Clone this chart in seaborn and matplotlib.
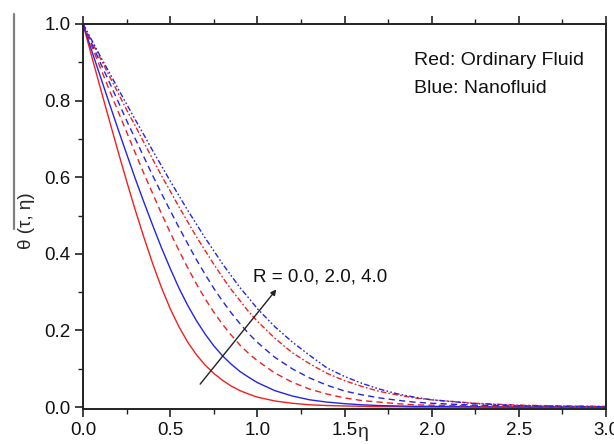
import matplotlib
matplotlib.use("Agg")
import matplotlib.pyplot as plt
import seaborn as sns
import pandas as pd
from matplotlib.lines import Line2D
from matplotlib.ticker import MultipleLocator, FormatStrFormatter

# ---- data ----
eta = [0.00, 0.05, 0.10, 0.15, 0.20, 0.25, 0.30, 0.35, 0.40, 0.45, 0.50,
       0.55, 0.60, 0.65, 0.70, 0.75, 0.80, 0.85, 0.90, 0.95, 1.00,
       1.10, 1.20, 1.30, 1.40, 1.50, 1.60, 1.70, 1.80, 1.90, 2.00,
       2.25, 2.50, 2.75, 3.00]

red_R0 = [1.000, 0.915, 0.832, 0.750, 0.669, 0.590, 0.514, 0.442, 0.374, 0.312, 0.257,
          0.210, 0.170, 0.137, 0.110, 0.088, 0.070, 0.055, 0.043, 0.034, 0.026,
          0.016, 0.010, 0.006, 0.004, 0.003, 0.002, 0.001, 0.001, 0.000, 0.000,
          0.000, 0.000, 0.000, 0.000]
blue_R0 = [1.000, 0.930, 0.862, 0.794, 0.727, 0.661, 0.596, 0.534, 0.474, 0.416, 0.362,
           0.311, 0.266, 0.226, 0.191, 0.160, 0.134, 0.112, 0.093, 0.078, 0.064,
           0.043, 0.029, 0.019, 0.013, 0.009, 0.006, 0.004, 0.003, 0.002, 0.002,
           0.001, 0.000, 0.000, 0.000]
red_R2 = [1.000, 0.942, 0.885, 0.829, 0.773, 0.718, 0.663, 0.609, 0.557, 0.505, 0.456,
          0.409, 0.364, 0.322, 0.283, 0.248, 0.216, 0.188, 0.162, 0.140, 0.121,
          0.089, 0.065, 0.047, 0.034, 0.024, 0.017, 0.013, 0.009, 0.006, 0.005,
          0.003, 0.001, 0.000, 0.000]
blue_R2 = [1.000, 0.949, 0.898, 0.849, 0.799, 0.748, 0.700, 0.652, 0.604, 0.558, 0.513,
           0.469, 0.427, 0.385, 0.347, 0.310, 0.277, 0.246, 0.218, 0.192, 0.169,
           0.130, 0.100, 0.076, 0.057, 0.042, 0.032, 0.024, 0.018, 0.013, 0.010,
           0.005, 0.003, 0.002, 0.001]
red_R4 = [1.000, 0.954, 0.910, 0.865, 0.821, 0.776, 0.734, 0.690, 0.647, 0.604, 0.564,
          0.523, 0.484, 0.445, 0.409, 0.373, 0.339, 0.307, 0.278, 0.249, 0.224,
          0.180, 0.142, 0.113, 0.088, 0.069, 0.054, 0.041, 0.032, 0.024, 0.019,
          0.010, 0.005, 0.003, 0.002]
blue_R4 = [1.000, 0.958, 0.915, 0.874, 0.832, 0.791, 0.750, 0.710, 0.669, 0.630, 0.590,
           0.552, 0.514, 0.478, 0.442, 0.408, 0.374, 0.343, 0.312, 0.285, 0.257,
           0.210, 0.170, 0.135, 0.102, 0.080, 0.062, 0.047, 0.035, 0.026, 0.019,
           0.009, 0.004, 0.002, 0.001]

series = [
    ("red_R0", red_R0, "#f02020", None),
    ("blue_R0", blue_R0, "#2424e8", None),
    ("red_R2", red_R2, "#f02020", (4.5, 3.0)),
    ("blue_R2", blue_R2, "#2424e8", (4.5, 3.0)),
    ("red_R4", red_R4, "#f02020", (4.0, 1.6, 1.2, 1.6)),
    ("blue_R4", blue_R4, "#2424e8", (4.0, 1.6, 1.2, 1.6, 1.2, 1.6)),
]

sns.set_theme(style="white")
plt.rcParams["font.family"] = ["Liberation Sans", "DejaVu Sans"]

fig = plt.figure(figsize=(6.14, 4.44), dpi=100)
ax = fig.add_axes([0.1352, 0.0788, 0.8518, 0.8672])

for name, vals, col, dash in series:
    df = pd.DataFrame({"eta": eta, "theta": vals})
    sns.lineplot(data=df, x="eta", y="theta", color=col, linewidth=1.0, ax=ax,
                 estimator=None, sort=False)
    if dash is not None:
        ax.lines[-1].set_dashes(dash)

ax.set_xlim(0, 3.0)
ax.set_ylim(-0.005, 1.0)

ax.xaxis.set_major_locator(MultipleLocator(0.5))
ax.xaxis.set_minor_locator(MultipleLocator(0.25))
ax.yaxis.set_major_locator(MultipleLocator(0.2))
ax.yaxis.set_minor_locator(MultipleLocator(0.1))
ax.xaxis.set_major_formatter(FormatStrFormatter("%.1f"))
ax.yaxis.set_major_formatter(FormatStrFormatter("%.1f"))

for sp in ax.spines.values():
    sp.set_visible(True)
    sp.set_color("#222222")
    sp.set_linewidth(1.4)

ax.tick_params(axis="both", which="both", direction="out", color="#222222",
               labelsize=13.5, labelcolor="#111111")
ax.tick_params(axis="x", which="both", top=True, bottom=True, labeltop=False)
ax.tick_params(axis="y", which="both", left=True, right=False)
ax.tick_params(which="major", length=6, width=1.2, pad=3)
ax.tick_params(which="minor", length=3.5, width=1.0)

ax.set_xlabel("η", fontsize=14, va="center", ha="center")
ax.xaxis.set_label_coords(0.536, -0.062)
ax.set_ylabel("θ (τ, η)", fontsize=13.5, va="center", ha="center")
ax.yaxis.set_label_coords(-0.108, 0.49)

ax.text(1.897, 0.904, "Red: Ordinary Fluid", fontsize=14, ha="left", va="center", color="#111111")
ax.text(1.897, 0.831, "Blue: Nanofluid", fontsize=14, ha="left", va="center", color="#111111")
ax.text(0.977, 0.34, "R = 0.0, 2.0, 4.0", fontsize=13.5, ha="left", va="center", color="#111111")
ax.annotate("", xy=(1.109, 0.307), xytext=(0.672, 0.06),
            arrowprops=dict(arrowstyle="-|>", color="#222222", lw=1.0,
                            mutation_scale=8, shrinkA=0, shrinkB=0))

fig.add_artist(Line2D([14 / 614, 14 / 614], [1 - 14 / 444, 1 - 229 / 444],
                      transform=fig.transFigure, color="#808080", lw=1.6))

fig.savefig("out.png", dpi=100)
